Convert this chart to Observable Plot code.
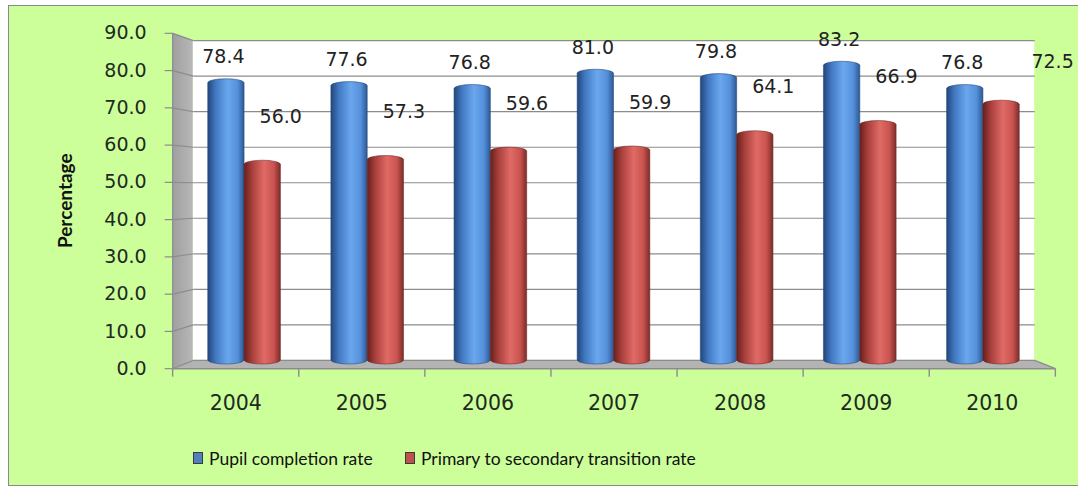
<!DOCTYPE html>
<html><head><meta charset="utf-8">
<script src="https://cdn.jsdelivr.net/npm/d3@7"></script>
<script src="https://cdn.jsdelivr.net/npm/@observablehq/plot@0.6"></script>
<style>
html,body{margin:0;padding:0;background:#fff;overflow:hidden;width:1078px;height:489px;}
#frame{position:absolute;left:8px;top:5px;width:1085px;height:481px;background:#ccff99;border:1px solid #8a8a8a;box-sizing:border-box;}
#chart{position:absolute;left:0;top:0;width:1078px;}
#chart svg{display:block;}
#legend{position:relative;height:56px;font-family:Lato,"Open Sans",sans-serif;font-size:17.5px;color:#111;}
.item{position:absolute;top:17px;height:22px;display:flex;align-items:center;white-space:nowrap;}
.sw{width:10px;height:12px;border:1px solid #3a3a3a;margin-right:6px;box-sizing:border-box;}
</style>
</head><body>
<div id="frame"></div>
<div id="chart"></div>
<script>
// ---- data ----
const years = ["2004","2005","2006","2007","2008","2009","2010"];
const completion = [78.4, 77.6, 76.8, 81.0, 79.8, 83.2, 76.8];
const transition = [56.0, 57.3, 59.6, 59.9, 64.1, 66.9, 72.5];
const seriesNames = ["Pupil completion rate", "Primary to secondary transition rate"];
const seriesColors = ["#4f81bd", "#c0504d"];
const yTicks = [0, 10, 20, 30, 40, 50, 60, 70, 80, 90];

// ---- table built from arrays ----
const rows = [];
years.forEach((yr, i) => {
  rows.push({i, year: yr, series: 0, value: completion[i]});
  rows.push({i, year: yr, series: 1, value: transition[i]});
});

// pseudo-3D depth (in data units around a perspective centre)
const N = years.length;
const cx = N / 2, cy = 47.8, kBack = 0.976, kFront = 1.024;
const xb = v => cx + kBack * (v - cx), yb = v => cy + kBack * (v - cy);
const xf = v => cx + kFront * (v - cx), yf = v => cy + kFront * (v - cy);
const barW = 0.295;
const labelX = d => d.i + 0.5 + (d.series === 0 ? -barW / 2 : barW / 2);
const labelText = d => d.value.toFixed(1);

const plot = Plot.plot({
  width: 1078, height: 430,
  marginLeft: 182.5, marginRight: 33.5, marginTop: 36.5, marginBottom: 66,
  x: {domain: [0, N], axis: null},
  y: {domain: [0, 90], axis: null},
  style: {background: "transparent", fontFamily: "'DejaVu Sans', Verdana, sans-serif", overflow: "visible"},
  marks: [
    // floor
    Plot.area([0, N], {x1: d => xf(d), y1: () => yf(0), x2: d => xb(d), y2: () => yb(0), fill: "#b3b3b3"}),
    // side wall
    Plot.area([0, 90], {x1: () => xf(0), y1: d => yf(d), x2: () => xb(0), y2: d => yb(d), fill: "url(#wallGrad)"}),
    // back wall
    Plot.rect([0], {x1: xb(0), x2: xb(N), y1: yb(0), y2: yb(90), fill: "white"}),
    // gridlines on back wall
    Plot.link(yTicks, {x1: xb(0), x2: xb(N), y1: d => yb(d), y2: d => yb(d), stroke: "#8c8c8c", strokeWidth: 1.2}),
    // gridlines on side wall
    Plot.link(yTicks, {x1: xf(0), x2: xb(0), y1: d => yf(d), y2: d => yb(d), stroke: "#8c8c8c", strokeWidth: 1.2}),
    // front vertical edge
    Plot.link([0], {x1: xf(0), x2: xf(0), y1: yf(0), y2: yf(90), stroke: "#8c8c8c", strokeWidth: 1.2}),
    // floor right edge
    Plot.link([0], {x1: xf(N), x2: xb(N), y1: yf(0), y2: yb(0), stroke: "#8c8c8c", strokeWidth: 1.2}),
    // front axis line
    Plot.link([0], {x1: xf(0), x2: xf(N), y1: yf(0), y2: yf(0), stroke: "#8c8c8c", strokeWidth: 1.4}),
    // y ticks
    Plot.link(yTicks, {x1: xf(0) - 0.065, x2: xf(0), y1: d => yf(d), y2: d => yf(d), stroke: "#8c8c8c", strokeWidth: 1.2}),
    // x ticks
    Plot.link(d3.range(N + 1), {x1: d => xf(d), x2: d => xf(d), y1: yf(0), y2: yf(0) - 2.2, stroke: "#8c8c8c", strokeWidth: 1.4}),
    // y tick labels
    Plot.text(yTicks, {x: xf(0), y: d => yf(d), text: d => d.toFixed(1), textAnchor: "end", dx: -26, fontSize: 19, fill: "#1e2a1e"}),
    // bars (cylinders)
    Plot.rect(rows, {
      x1: d => d.i + 0.5 - (d.series === 0 ? barW : 0),
      x2: d => d.i + 0.5 + (d.series === 1 ? barW : 0),
      y1: 0, y2: "value",
      fill: d => d.series === 0 ? "url(#blueGrad)" : "url(#redGrad)",
      stroke: d => d.series === 0 ? "#25456f" : "#6a2624",
      strokeOpacity: 0.55, strokeWidth: 1,
      rx: 18, ry: 4
    }),
    // value labels: completion
    Plot.text(rows, {filter: d => d.series === 0, x: labelX, y: "value", text: labelText, dx: -3, dy: -22, fontSize: 19, fill: "#222"}),
    // value labels: transition
    Plot.text(rows, {filter: d => d.series === 1 && d.i < N - 1, x: labelX, y: "value", text: labelText, dx: 18, dy: -44, fontSize: 19, fill: "#222"}),
    Plot.text(rows, {filter: d => d.series === 1 && d.i === N - 1, x: labelX, y: "value", text: labelText, dx: 51, dy: -39, fontSize: 19, fill: "#222"}),
    // year labels
    Plot.text(years, {x: (d, i) => xf(i + 0.5), y: yf(0), text: d => d, dy: 35, fontSize: 20.5, fill: "#1e2a1e"}),
    // y axis title
    Plot.text(["Percentage"], {frameAnchor: "left", textAnchor: "middle", text: d => d, rotate: -90, dx: -117.5, fontSize: 19, fontWeight: "bold", fontFamily: "Lato, 'Open Sans', sans-serif", fill: "#111"})
  ]
});

// gradients for cylinders and wall
const defs = d3.select(plot).insert("defs", ":first-child");
function grad(id, stops) {
  const g = defs.append("linearGradient").attr("id", id).attr("x1", 0).attr("x2", 1).attr("y1", 0).attr("y2", 0);
  stops.forEach(([o, c]) => g.append("stop").attr("offset", o).attr("stop-color", c));
}
grad("blueGrad", [[0, "#23467c"], [0.22, "#4179c2"], [0.55, "#6aa7ee"], [0.82, "#5590da"], [1, "#2d5895"]]);
grad("redGrad", [[0, "#66201e"], [0.22, "#a83f3b"], [0.55, "#e06a66"], [0.82, "#c8534f"], [1, "#7d2c29"]]);
grad("wallGrad", [[0, "#9e9e9e"], [1, "#b8b8b8"]]);

const chart = document.getElementById("chart");
chart.appendChild(plot);

// legend below the svg
const legend = document.createElement("div");
legend.id = "legend";
const lefts = [193, 405];
seriesNames.forEach((name, k) => {
  const it = document.createElement("div");
  it.className = "item";
  it.style.left = lefts[k] + "px";
  const sw = document.createElement("span");
  sw.className = "sw";
  sw.style.background = seriesColors[k];
  const tx = document.createElement("span");
  tx.textContent = name;
  it.appendChild(sw); it.appendChild(tx);
  legend.appendChild(it);
});
chart.appendChild(legend);
</script>
</body></html>
